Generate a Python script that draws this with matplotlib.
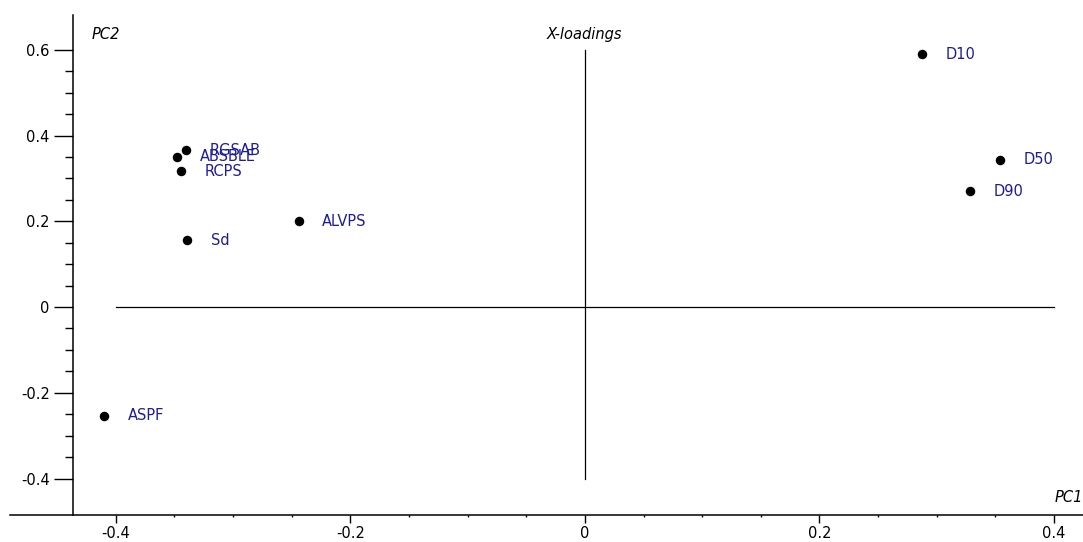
import numpy as np
import matplotlib.pyplot as plt
from matplotlib.ticker import FixedLocator

# loadings
names = ["D10", "D50", "D90", "ALVPS", "Sd", "ASPF", "RCPS", "ABSBLE", "RGSAB"]
pc1 = [0.287, 0.354, 0.328, -0.244, -0.339, -0.410, -0.344, -0.348, -0.340]
pc2 = [0.590, 0.343, 0.270, 0.200, 0.156, -0.254, 0.317, 0.350, 0.366]

xticks = [-0.4, -0.2, 0, 0.2, 0.4]
xticklabels = ["-0.4", "-0.2", "0", "0.2", "0.4"]
yticks = [-0.4, -0.2, 0, 0.2, 0.4, 0.6]
yticklabels = ["-0.4", "-0.2", "0", "0.2", "0.4", "0.6"]

plt.rcParams['font.family'] = ['DejaVu Sans']

fig = plt.figure(figsize=(10.83, 5.42), dpi=100)
ax = fig.add_axes([0.0092, 0.0498, 0.9908, 0.9225])
ax.set_xlim(-0.490, 0.4246)
ax.set_ylim(-0.485, 0.681)

#crosshair through the origin
ax.plot([-0.4, 0.4], [0, 0], color='black', lw=0.9)
ax.plot([0, 0], [-0.4, 0.6], color='black', lw=0.9)

ax.scatter(pc1, pc2, s=34, color='black', zorder=3)
for n, x, y in zip(names, pc1, pc2):
    ax.annotate(n, (x, y), xytext=(17, 0), textcoords='offset points',
                va='center', ha='left', fontsize=10.5, color='#1c1c9c')

# spines
for s in ['top', 'right']:
    ax.spines[s].set_visible(False)
ax.spines['left'].set_position(('data', -0.436))
ax.spines['left'].set_linewidth(1.1)
ax.spines['bottom'].set_linewidth(1.1)

ax.set_xticks(xticks)
ax.set_xticklabels(xticklabels)
ax.set_yticks(yticks)
ax.set_yticklabels(yticklabels)
# minor ticks only between the labelled ends
ax.xaxis.set_minor_locator(FixedLocator(np.arange(-0.4, 0.401, 0.05)))
ax.yaxis.set_minor_locator(FixedLocator(np.arange(-0.4, 0.601, 0.05)))
ax.tick_params(axis='x', which='major', direction='out', length=6, width=1, pad=2, labelsize=10.5)
ax.tick_params(axis='x', which='minor', direction='out', length=1.5, width=1)
ax.tick_params(axis='y', which='major', direction='out', length=14, width=1, pad=3, labelsize=10.5)
ax.tick_params(axis='y', which='minor', direction='out', length=6, width=1)

ax.text(-0.42, 0.635, "PC2", style='italic', fontsize=10.5, ha='left', va='center')
ax.text(0, 0.635, "X-loadings", style='italic', fontsize=10.5, ha='center', va='center')
ax.text(0.4246, -0.445, "PC1", style='italic', fontsize=10.5, ha='right', va='center')

fig.savefig("out.png", dpi=100)
